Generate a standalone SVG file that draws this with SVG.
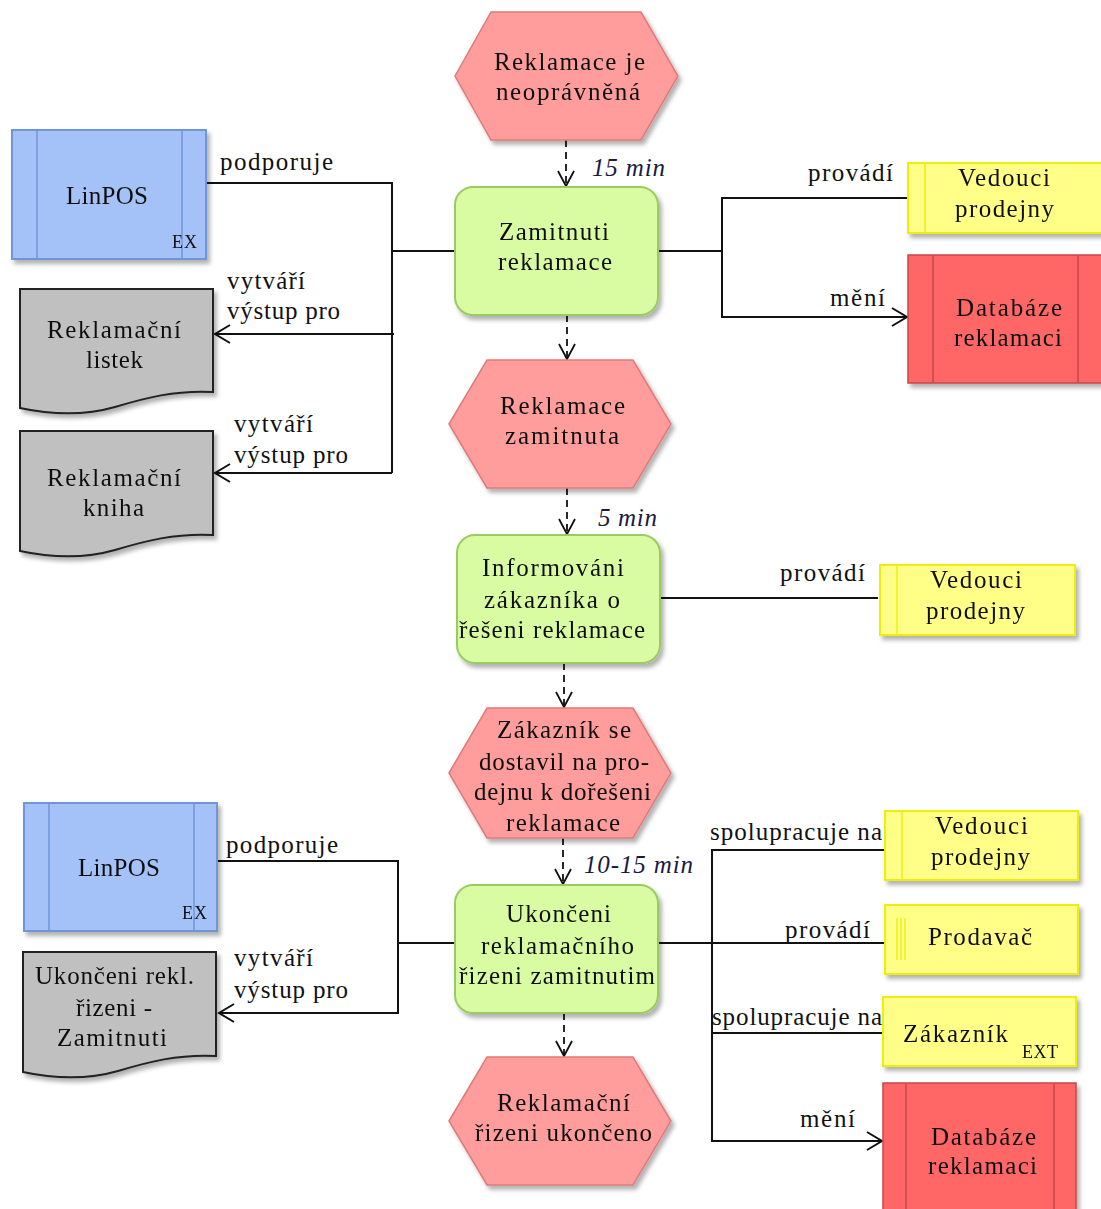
<svg xmlns="http://www.w3.org/2000/svg" width="1101" height="1209" viewBox="0 0 1101 1209">
<style>
text{font-family:"Liberation Serif","Times New Roman",serif;font-size:25px;fill:#111}
.it{font-style:italic;fill:#1a1a40}
.sm{font-size:18px}
.hex{fill:#FF9C9C;stroke:#E07A7A;stroke-width:1.5}
.fn{fill:#D9FCA2;stroke:#9ACB62;stroke-width:2}
.yl{fill:#FFFF88;stroke:#EEEE10;stroke-width:2}
.yi{stroke:#EEEE10;stroke-width:1.5;fill:none}
.bl{fill:#A4C2F8;stroke:#6F95D8;stroke-width:2}
.bi{stroke:#6F95D8;stroke-width:1.5;fill:none}
.db{fill:#FF6666;stroke:#C94848;stroke-width:1.5}
.di{stroke:#C94848;stroke-width:1.5;fill:none}
.doc{fill:#C0C0C0;stroke:#222;stroke-width:2}
.ln{fill:none;stroke:#111;stroke-width:2}
.ds{fill:none;stroke:#111;stroke-width:1.8;stroke-dasharray:7 5}
</style>
<defs>
<filter id="sh" x="-10%" y="-10%" width="125%" height="125%">
<feDropShadow dx="3" dy="4" stdDeviation="2" flood-color="#000" flood-opacity="0.3"/>
</filter>
<marker id="ar" markerUnits="userSpaceOnUse" markerWidth="18" markerHeight="22" refX="16" refY="10" orient="auto" viewBox="0 0 18 22">
<path d="M1,1 L16,10 L1,19" fill="none" stroke="#111" stroke-width="2"/>
</marker>
<marker id="ad" markerUnits="userSpaceOnUse" markerWidth="18" markerHeight="20" refX="16" refY="9" orient="auto" viewBox="0 0 18 20">
<path d="M1,1 L16,9 L1,17" fill="none" stroke="#111" stroke-width="1.8"/>
</marker>
</defs>

<g id="connectors">
<path class="ds" d="M566,140 V186" marker-end="url(#ad)"/>
<path class="ds" d="M567,315 V359" marker-end="url(#ad)"/>
<path class="ds" d="M567,488 V534" marker-end="url(#ad)"/>
<path class="ds" d="M564,663 V707" marker-end="url(#ad)"/>
<path class="ds" d="M563,838 V884" marker-end="url(#ad)"/>
<path class="ds" d="M564,1013 V1056" marker-end="url(#ad)"/>
<path class="ln" d="M207,183 H392 V473"/>
<path class="ln" d="M455,251 H392"/>
<path class="ln" d="M394,334 H215" marker-end="url(#ar)"/>
<path class="ln" d="M392,473 H215" marker-end="url(#ar)"/>
<path class="ln" d="M658,251 H722"/>
<path class="ln" d="M908,198 H722 V317 H907" marker-end="url(#ar)"/>
<path class="ln" d="M660,598 H878"/>
<path class="ln" d="M217,861 H398 V1013 H219" marker-end="url(#ar)"/>
<path class="ln" d="M455,943 H398"/>
<path class="ln" d="M658,943 H884"/>
<path class="ln" d="M884,850 H712 V1141 H882" marker-end="url(#ar)"/>
<path class="ln" d="M712,1033 H884"/>
</g>

<g id="labels">
<text x="220" y="170" textLength="113" lengthAdjust="spacing">podporuje</text>
<text x="227" y="289" textLength="78" lengthAdjust="spacing">vytváří</text>
<text x="227" y="319" textLength="113" lengthAdjust="spacing">výstup pro</text>
<text x="234" y="432" textLength="79" lengthAdjust="spacing">vytváří</text>
<text x="234" y="463" textLength="114" lengthAdjust="spacing">výstup pro</text>
<text x="808" y="181" textLength="85" lengthAdjust="spacing">provádí</text>
<text x="830" y="306" textLength="55" lengthAdjust="spacing">mění</text>
<text x="780" y="581" textLength="85" lengthAdjust="spacing">provádí</text>
<text x="226" y="853" textLength="112" lengthAdjust="spacing">podporuje</text>
<text x="234" y="966" textLength="79" lengthAdjust="spacing">vytváří</text>
<text x="234" y="998" textLength="114" lengthAdjust="spacing">výstup pro</text>
<text x="710" y="840" textLength="172" lengthAdjust="spacing">spolupracuje na</text>
<text x="785" y="938" textLength="85" lengthAdjust="spacing">provádí</text>
<text x="712" y="1025" textLength="170" lengthAdjust="spacing">spolupracuje na</text>
<text x="800" y="1127" textLength="55" lengthAdjust="spacing">mění</text>
<text class="it" x="592" y="176" textLength="73" lengthAdjust="spacing">15 min</text>
<text class="it" x="598" y="526" textLength="59" lengthAdjust="spacing">5 min</text>
<text class="it" x="584" y="873" textLength="109" lengthAdjust="spacing">10-15 min</text>
</g>

<g id="ev1" filter="url(#sh)">
<polygon class="hex" points="455,76 491,12 641,12 678,76 641,140 491,140"/>
<text x="494" y="70" textLength="151" lengthAdjust="spacing">Reklamace je</text>
<text x="496" y="100" textLength="144" lengthAdjust="spacing">neoprávněná</text>
</g>

<g id="fn1" filter="url(#sh)">
<rect class="fn" x="455" y="187" width="203" height="128" rx="18"/>
<text x="499" y="240" textLength="110" lengthAdjust="spacing">Zamitnuti</text>
<text x="498" y="270" textLength="114" lengthAdjust="spacing">reklamace</text>
</g>

<g id="linpos1" filter="url(#sh)">
<rect class="bl" x="12" y="130" width="194" height="129"/>
<path class="bi" d="M37,130 V259 M182,130 V259"/>
<text x="66" y="204" textLength="82" lengthAdjust="spacing">LinPOS</text>
<text class="sm" x="172" y="248" textLength="25" lengthAdjust="spacing">EX</text>
</g>

<g id="doc1" filter="url(#sh)">
<path class="doc" d="M20,289 H213 V392 C175,390 145,398 115,407 C80,417 48,414 20,408 Z"/>
<text x="47" y="338" textLength="134" lengthAdjust="spacing">Reklamační</text>
<text x="86" y="368" textLength="57" lengthAdjust="spacing">listek</text>
</g>

<g id="doc2" filter="url(#sh)">
<path class="doc" d="M20,431 H213 V535 C175,533 145,541 115,550 C80,560 48,557 20,551 Z"/>
<text x="47" y="486" textLength="134" lengthAdjust="spacing">Reklamační</text>
<text x="83" y="516" textLength="61" lengthAdjust="spacing">kniha</text>
</g>

<g id="ved1" filter="url(#sh)">
<rect class="yl" x="908" y="163" width="195" height="70"/>
<path class="yi" d="M925,163 V233"/>
<text x="958" y="186" textLength="92" lengthAdjust="spacing">Vedouci</text>
<text x="955" y="217" textLength="99" lengthAdjust="spacing">prodejny</text>
</g>

<g id="db1" filter="url(#sh)">
<rect class="db" x="908" y="255" width="195" height="128"/>
<path class="di" d="M933,255 V383 M1078,255 V383"/>
<text x="956" y="316" textLength="106" lengthAdjust="spacing">Databáze</text>
<text x="954" y="346" textLength="108" lengthAdjust="spacing">reklamaci</text>
</g>

<g id="ev2" filter="url(#sh)">
<polygon class="hex" points="449,424 487,360 633,360 671,424 633,488 487,488"/>
<text x="500" y="414" textLength="125" lengthAdjust="spacing">Reklamace</text>
<text x="505" y="444" textLength="114" lengthAdjust="spacing">zamitnuta</text>
</g>

<g id="fn2" filter="url(#sh)">
<rect class="fn" x="457" y="535" width="203" height="128" rx="18"/>
<text x="482" y="576" textLength="142" lengthAdjust="spacing">Informováni</text>
<text x="484" y="608" textLength="136" lengthAdjust="spacing">zákazníka o</text>
<text x="459" y="638" textLength="186" lengthAdjust="spacing">řešeni reklamace</text>
</g>

<g id="ved2" filter="url(#sh)">
<rect class="yl" x="880" y="565" width="195" height="70"/>
<path class="yi" d="M897,565 V635"/>
<text x="930" y="588" textLength="92" lengthAdjust="spacing">Vedouci</text>
<text x="926" y="619" textLength="99" lengthAdjust="spacing">prodejny</text>
</g>

<g id="ev3" filter="url(#sh)">
<polygon class="hex" points="449,773 487,708 633,708 671,773 633,838 487,838"/>
<text x="497" y="738" textLength="134" lengthAdjust="spacing">Zákazník se</text>
<text x="479" y="770" textLength="170" lengthAdjust="spacing">dostavil na pro-</text>
<text x="474" y="800" textLength="177" lengthAdjust="spacing">dejnu k dořešeni</text>
<text x="506" y="831" textLength="114" lengthAdjust="spacing">reklamace</text>
</g>

<g id="fn3" filter="url(#sh)">
<rect class="fn" x="455" y="885" width="203" height="128" rx="18"/>
<text x="506" y="922" textLength="105" lengthAdjust="spacing">Ukončeni</text>
<text x="481" y="954" textLength="153" lengthAdjust="spacing">reklamačního</text>
<text x="459" y="984" textLength="196" lengthAdjust="spacing">řizeni zamitnutim</text>
</g>

<g id="linpos2" filter="url(#sh)">
<rect class="bl" x="24" y="803" width="193" height="128"/>
<path class="bi" d="M49,803 V931 M194,803 V931"/>
<text x="78" y="876" textLength="82" lengthAdjust="spacing">LinPOS</text>
<text class="sm" x="182" y="919" textLength="25" lengthAdjust="spacing">EX</text>
</g>

<g id="doc3" filter="url(#sh)">
<path class="doc" d="M23,952 H216 V1056 C178,1054 148,1062 118,1071 C83,1081 51,1078 23,1072 Z"/>
<text x="35" y="984" textLength="159" lengthAdjust="spacing">Ukončeni rekl.</text>
<text x="76" y="1016" textLength="76" lengthAdjust="spacing">řizeni -</text>
<text x="57" y="1046" textLength="110" lengthAdjust="spacing">Zamitnuti</text>
</g>

<g id="ved3" filter="url(#sh)">
<rect class="yl" x="885" y="811" width="193" height="69"/>
<path class="yi" d="M902,811 V880"/>
<text x="935" y="834" textLength="93" lengthAdjust="spacing">Vedouci</text>
<text x="931" y="865" textLength="99" lengthAdjust="spacing">prodejny</text>
</g>

<g id="prodavac" filter="url(#sh)">
<rect class="yl" x="885" y="905" width="193" height="69"/>
<path class="yi" d="M897,918 V960 M901,918 V960 M905,918 V960"/>
<text x="928" y="945" textLength="104" lengthAdjust="spacing">Prodavač</text>
</g>

<g id="zakaznik" filter="url(#sh)">
<rect class="yl" x="883" y="997" width="193" height="69"/>
<text x="903" y="1042" textLength="105" lengthAdjust="spacing">Zákazník</text>
<text class="sm" x="1022" y="1058" textLength="36" lengthAdjust="spacing">EXT</text>
</g>

<g id="db2" filter="url(#sh)">
<rect class="db" x="883" y="1083" width="193" height="135"/>
<path class="di" d="M906,1083 V1218 M1054,1083 V1218"/>
<text x="931" y="1145" textLength="105" lengthAdjust="spacing">Databáze</text>
<text x="928" y="1174" textLength="109" lengthAdjust="spacing">reklamaci</text>
</g>

<g id="ev4" filter="url(#sh)">
<polygon class="hex" points="449,1121 487,1057 633,1057 671,1121 633,1185 487,1185"/>
<text x="497" y="1111" textLength="133" lengthAdjust="spacing">Reklamační</text>
<text x="475" y="1141" textLength="177" lengthAdjust="spacing">řizeni ukončeno</text>
</g>
</svg>
